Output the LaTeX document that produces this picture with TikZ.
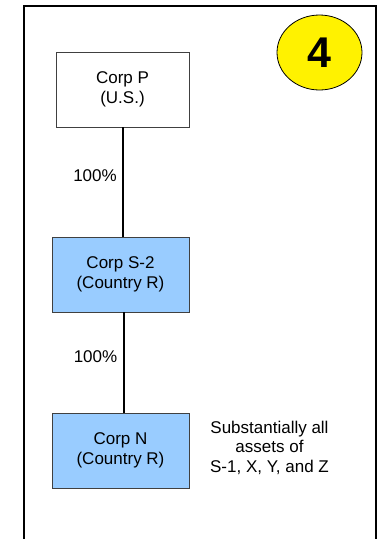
\documentclass[tikz,border=0pt]{standalone}
\usepackage{fontspec}
\setmainfont{Liberation Sans}
\usetikzlibrary{shapes.geometric}
\definecolor{boxblue}{HTML}{99CCFF}
\definecolor{boxline}{HTML}{404040}
\begin{document}
\begin{tikzpicture}[x=1pt,y=-1pt,
  corpbox/.style={draw=boxline,line width=0.9pt,minimum height=75pt,inner sep=0pt,align=center,
    font=\fontsize{17}{19.5}\selectfont},
  link/.style={draw=black,line width=2pt},
  pct/.style={font=\fontsize{17}{19.5}\selectfont,inner sep=0pt},
  note/.style={align=center,inner sep=0pt,font=\fontsize{17}{19.5}\selectfont}]
\useasboundingbox (0,0) rectangle (379,539);
\clip (0,0) rectangle (379,539);
% frame
\draw[line width=2pt] (24,560) -- (24,6) -- (376,6) -- (376,560);
% badge
\node[ellipse,draw=black,line width=0.8pt,fill=yellow,minimum width=85pt,minimum height=75pt,inner sep=0pt,
  font=\fontsize{43}{43}\bfseries\selectfont] (badge) at (319.5,52.5) {4};
% boxes
\node[corpbox,fill=white,minimum width=133pt] (P) at (122.5,89.5) {Corp P\\(U.S.)};
\node[corpbox,fill=boxblue,minimum width=137pt] (S) at (120.5,274.5) {Corp S-2\\(Country R)};
\node[corpbox,fill=boxblue,minimum width=137pt] (N) at (120.5,450.5) {Corp N\\(Country R)};
% connectors
\draw[link] ([xshift=0pt]P.south) -- ([xshift=0pt]P.south |- S.north);
\draw[link] ([xshift=3pt]S.south) -- ([xshift=3pt]S.south |- N.north);
% labels
\node[pct] (l1) at (95,176) {100\%};
\node[pct] (l2) at (95.5,357) {100\%};
\node[note] (asset) at (269.5,447.5) {Substantially all\\assets of\\S-1, X, Y, and Z};
\end{tikzpicture}
\end{document}
